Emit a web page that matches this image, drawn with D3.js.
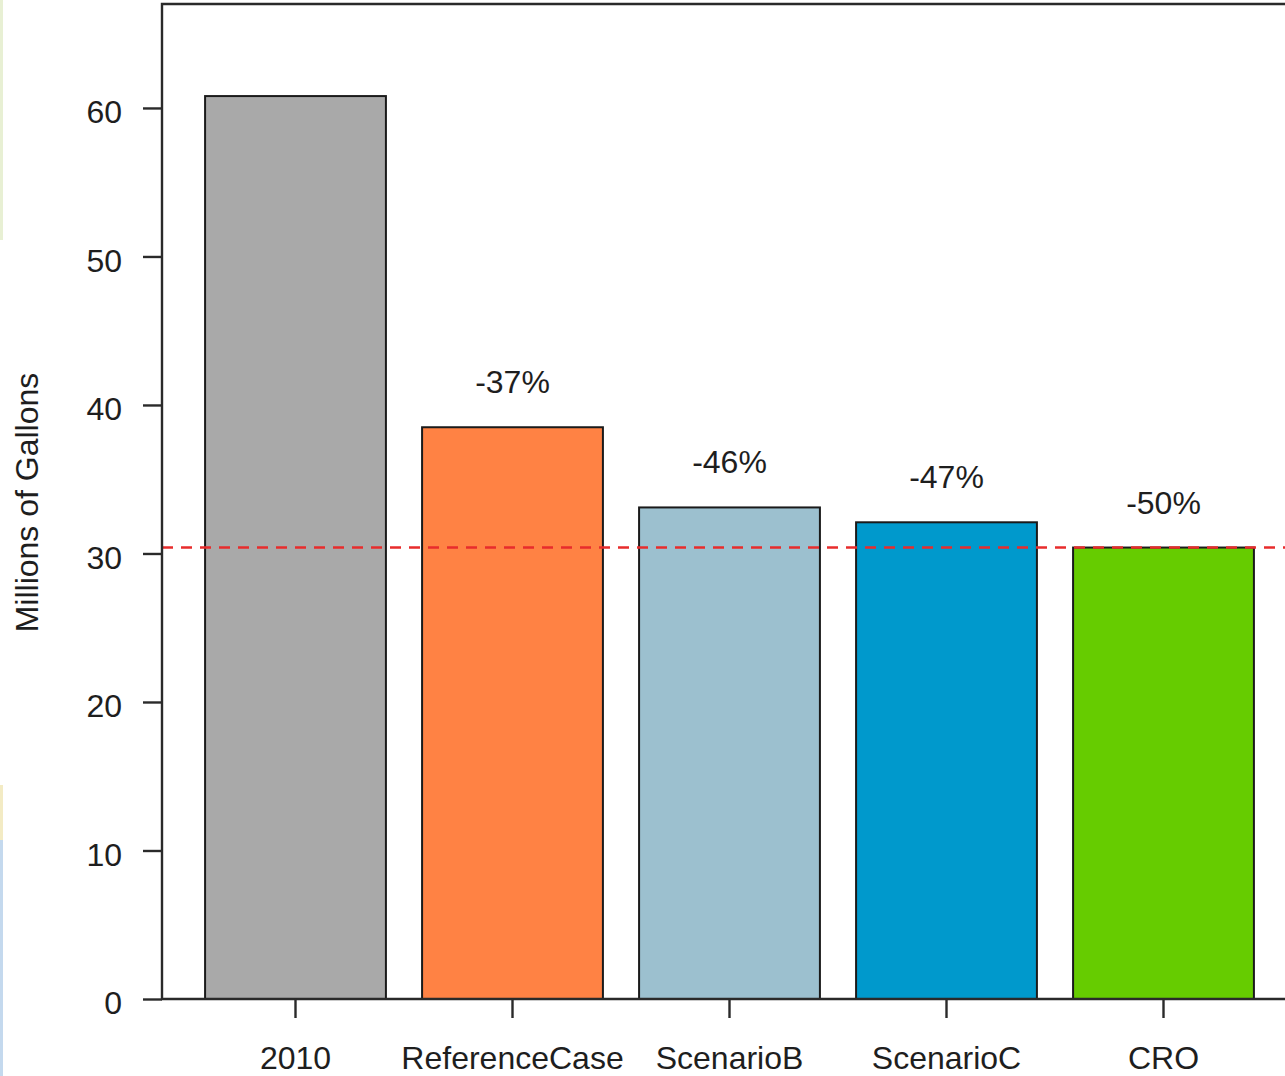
<!DOCTYPE html>
<html>
<head>
<meta charset="utf-8">
<script src="https://cdn.jsdelivr.net/npm/d3@7"></script>
<style>
  body { margin: 0; background: #fff; }
  svg { display: block; font-family: "Liberation Sans", Arial, sans-serif; }
</style>
</head>
<body>
<div id="chart"></div>
<script>
const categories = ["2010", "ReferenceCase", "ScenarioB", "ScenarioC", "CRO"];
const values = [60.8, 38.5, 33.1, 32.1, 30.4];
const changeLabels = ["", "-37%", "-46%", "-47%", "-50%"];
const barColors = ["#a9a9a9", "#ff8244", "#9cc0cf", "#0099cc", "#66cc00"];
const yTicks = [0, 10, 20, 30, 40, 50, 60];
const targetLine = 30.4;

const width = 1285;
const height = 1076;

const svg = d3.select("#chart")
    .append("svg")
        .attr("width", width)
        .attr("height", height);

// faint strip on the left edge, as in the screenshot
svg.append("rect").attr("x", 0).attr("y", 0).attr("width", 3).attr("height", 240).attr("fill", "#e8f0d4");
svg.append("rect").attr("x", 0).attr("y", 785).attr("width", 3).attr("height", 55).attr("fill", "#f3ebc4");
svg.append("rect").attr("x", 0).attr("y", 840).attr("width", 3).attr("height", 236).attr("fill", "#c4d9ee");

const y = d3.scaleLinear()
    .domain([0, 67])
    .range([999, 4]);

const x = d3.scaleBand()
    .domain(categories)
    .range([187, 1272])
    .paddingInner(1 / 6)
    .paddingOuter(1 / 12);

const boxLeft = 162;

// bars
svg.selectAll("rect.bar")
    .data(values)
    .enter()
    .append("rect")
        .attr("class", "bar")
        .attr("x", (d, i) => x(categories[i]))
        .attr("y", d => y(d))
        .attr("width", x.bandwidth())
        .attr("height", d => y(0) - y(d))
        .attr("fill", (d, i) => barColors[i])
        .attr("stroke", "#1a1a1a")
        .attr("stroke-width", 2);

// dashed target line
svg.append("line")
    .attr("x1", boxLeft).attr("x2", width)
    .attr("y1", y(targetLine)).attr("y2", y(targetLine))
    .attr("stroke", "#e82c2c")
    .attr("stroke-width", 2.4)
    .attr("stroke-dasharray", "11,8");

// percent labels above bars
svg.selectAll("text.pct")
    .data(values)
    .enter()
    .append("text")
        .attr("class", "pct")
        .attr("x", (d, i) => x(categories[i]) + x.bandwidth() / 2)
        .attr("y", d => y(d) - 34)
        .attr("text-anchor", "middle")
        .style("font-size", "32px")
        .attr("fill", "#1e1e1e")
        .text((d, i) => changeLabels[i]);

// plot box (left, top, bottom) - right side runs off the page
svg.append("path")
    .attr("d", `M${width},${y(67)}H${boxLeft}V${y(0)}H${width}`)
    .attr("fill", "none")
    .attr("stroke", "#2a2a2a")
    .attr("stroke-width", 2.4);

// y axis
const yAxis = svg.append("g")
    .attr("transform", `translate(${boxLeft},0)`)
    .call(d3.axisLeft(y).tickValues(yTicks).tickSize(19).tickPadding(21));
yAxis.select(".domain").remove();
yAxis.selectAll(".tick line").attr("stroke", "#2a2a2a").attr("stroke-width", 2.4);
yAxis.selectAll(".tick text")
    .attr("dy", "0.46em")
    .style("font-size", "32px")
    .style("font-family", "Liberation Sans, Arial, sans-serif")
    .attr("fill", "#1e1e1e");

// x axis
const xAxis = svg.append("g")
    .attr("transform", `translate(0,${y(0)})`)
    .call(d3.axisBottom(x).tickSize(19).tickPadding(28));
xAxis.select(".domain").remove();
xAxis.selectAll(".tick line").attr("stroke", "#2a2a2a").attr("stroke-width", 2.4);
xAxis.selectAll(".tick text")
    .style("font-size", "32px")
    .style("font-family", "Liberation Sans, Arial, sans-serif")
    .attr("fill", "#1e1e1e");

// axis title
svg.append("text")
    .attr("transform", `translate(38,${(372 + 633) / 2}) rotate(-90)`)
    .attr("text-anchor", "middle")
    .style("font-size", "32px")
    .attr("fill", "#1e1e1e")
    .text("Millions of Gallons");
</script>
</body>
</html>
